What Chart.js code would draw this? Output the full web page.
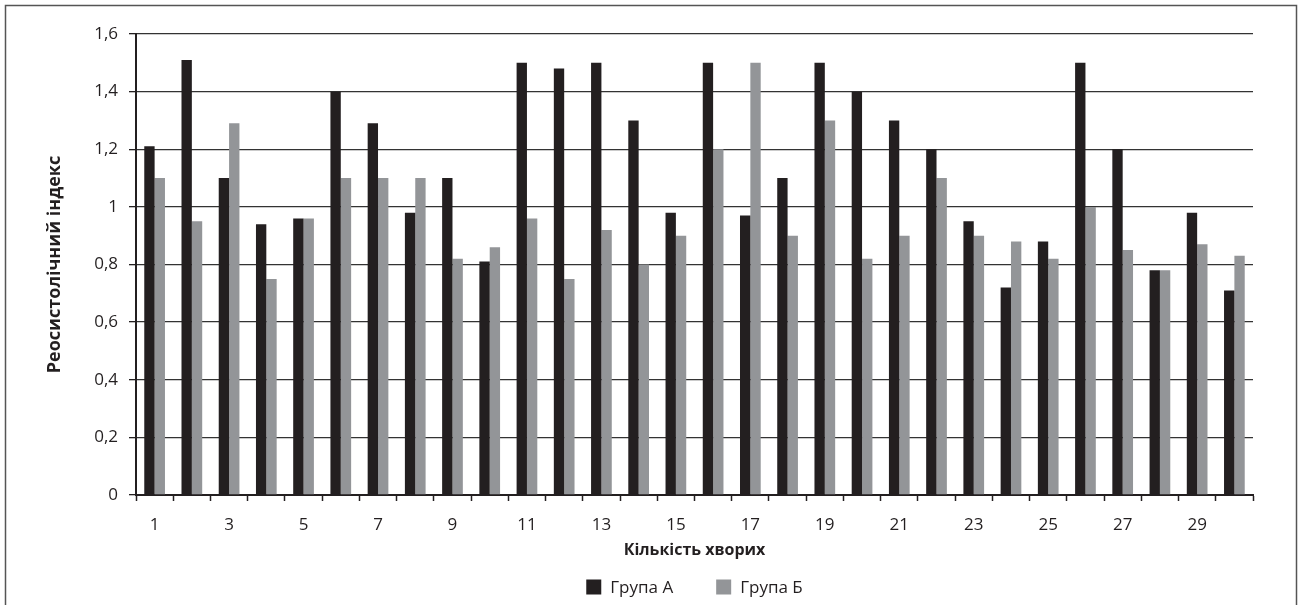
<!DOCTYPE html>
<html>
<head>
<meta charset="utf-8">
<script src="https://cdn.jsdelivr.net/npm/chart.js@4"></script>
<style>
  html, body { margin: 0; padding: 0; background: #fff; }
  #wrap { width: 1300px; height: 605px; }
</style>
</head>
<body>
<div id="wrap"><canvas id="bar-chart"></canvas></div>
<script>
const patients = ["1","2","3","4","5","6","7","8","9","10","11","12","13","14","15",
  "16","17","18","19","20","21","22","23","24","25","26","27","28","29","30"];
const groupA = [1.21, 1.51, 1.1, 0.94, 0.96, 1.4, 1.29, 0.98, 1.1, 0.81, 1.5, 1.48, 1.5, 1.3, 0.98,
  1.5, 0.97, 1.1, 1.5, 1.4, 1.3, 1.2, 0.95, 0.72, 0.88, 1.5, 1.2, 0.78, 0.98, 0.71];
const groupB = [1.1, 0.95, 1.29, 0.75, 0.96, 1.1, 1.1, 1.1, 0.82, 0.86, 0.96, 0.75, 0.92, 0.8, 0.9,
  1.2, 1.5, 0.9, 1.3, 0.82, 0.9, 1.1, 0.9, 0.88, 0.82, 1.0, 0.85, 0.78, 0.87, 0.83];
const seriesNames = ["Група А", "Група Б"];
const yTitle = "Реосистолічний індекс";
const xTitle = "Кількість хворих";

const FONT = "'Open Sans', 'Noto Sans', sans-serif";
const DARK = "#231f20";
const GREY = "#939598";

// frame around the whole figure
const frame = {
  id: "frame",
  afterDraw(chart) {
    const ctx = chart.ctx;
    ctx.save();
    ctx.strokeStyle = "#555";
    ctx.lineWidth = 1.5;
    ctx.strokeRect(5.5, 5.5, 1291, 700);
    ctx.restore();
  },
};

// legend centred under the plot area (not the canvas)
const bottomLegend = {
  id: "bottomLegend",
  afterDraw(chart) {
    const ctx = chart.ctx;
    const area = chart.chartArea;
    const box = 15, gap = 9, spacing = 43;
    ctx.save();
    ctx.font = "17px " + FONT;
    ctx.textBaseline = "middle";
    const items = chart.data.datasets.map((ds) => ({
      text: ds.label,
      color: ds.backgroundColor,
      w: box + gap + ctx.measureText(ds.label).width,
    }));
    const total = items.reduce((s, it) => s + it.w, 0) + spacing * (items.length - 1);
    let x = (area.left + area.right) / 2 - total / 2;
    const y = 587;
    items.forEach((it) => {
      ctx.fillStyle = it.color;
      ctx.fillRect(x, y - box / 2, box, box);
      ctx.fillStyle = DARK;
      ctx.fillText(it.text, x + box + gap, y + 1);
      x += it.w + spacing;
    });
    ctx.restore();
  },
};

new Chart(document.getElementById("bar-chart"), {
  type: "bar",
  data: {
    labels: patients,
    datasets: [
      { label: seriesNames[0], data: groupA, backgroundColor: DARK },
      { label: seriesNames[1], data: groupB, backgroundColor: GREY },
    ],
  },
  options: {
    responsive: true,
    maintainAspectRatio: false,
    animation: false,
    layout: { padding: { top: 34, right: 47, bottom: 40, left: 10 } },
    datasets: { bar: { categoryPercentage: 0.556, barPercentage: 1 } },
    plugins: {
      legend: { display: false },
      tooltip: { enabled: false },
    },
    scales: {
      x: {
        afterFit(s) { s.height = 70; },
        grid: {
          offset: true,
          drawOnChartArea: false,
          drawTicks: true,
          tickLength: 6,
          tickColor: DARK,
          tickWidth: 1.5,
        },
        border: { display: true, color: DARK, width: 2 },
        ticks: {
          autoSkip: false,
          maxRotation: 0,
          padding: 14,
          color: DARK,
          font: { family: FONT, size: 17 },
          callback(val, i) { return i % 2 === 0 ? this.getLabelForValue(val) : ""; },
        },
        title: {
          display: true,
          text: xTitle,
          color: DARK,
          font: { family: FONT, size: 16, weight: "bold" },
          padding: { top: 0, bottom: 5 },
        },
      },
      y: {
        min: 0,
        max: 1.6,
        afterFit(s) { s.width = 126; },
        grid: {
          color: "#333",
          lineWidth: 1.3,
          tickLength: 7,
          tickColor: DARK,
        },
        border: { display: true, color: DARK, width: 2 },
        ticks: {
          stepSize: 0.2,
          padding: 11,
          color: DARK,
          font: { family: FONT, size: 17 },
          callback: (v) => String(Math.round(v * 10) / 10).replace(".", ","),
        },
        title: {
          display: true,
          text: yTitle,
          color: DARK,
          font: { family: FONT, size: 18, weight: "bold" },
          padding: { top: 34, bottom: 0 },
        },
      },
    },
  },
  plugins: [frame, bottomLegend],
});
</script>
</body>
</html>
